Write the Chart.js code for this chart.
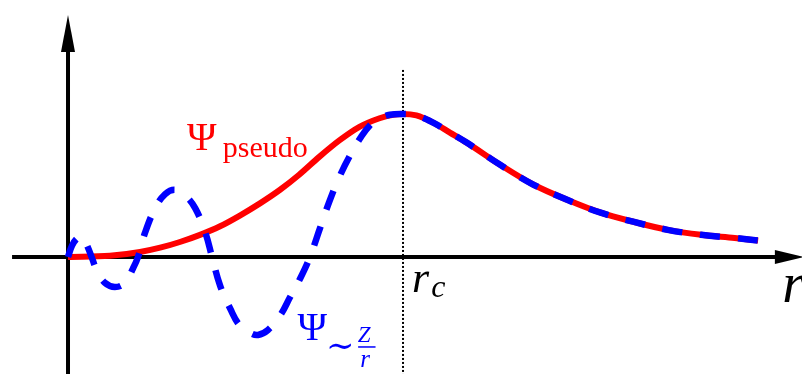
<!DOCTYPE html>
<html>
<head>
<meta charset="utf-8">
<script src="https://cdn.jsdelivr.net/npm/chart.js@4.4.1/dist/chart.umd.min.js"></script>
<style>
  html, body { margin: 0; padding: 0; background: #fff; }
  #wrap { width: 802px; height: 374px; position: relative; }
</style>
</head>
<body>
<div id="wrap"><canvas id="psiChart"></canvas></div>
<script>
'use strict';

// r in units of r_c, psi in units of the peak value (reached at r_c)
const R_CUT = 1;

// pseudo wavefunction inside the core
const R_PSEUDO_IN   = [0, 0.125, 0.215, 0.275, 0.334, 0.394, 0.454, 0.513, 0.573, 0.633, 0.69, 0.75, 0.81, 0.87, 0.93, 0.97, 1.0];
const PSI_PSEUDO_IN = [0, 0.008, 0.035, 0.065, 0.105, 0.155, 0.215, 0.29, 0.375, 0.47, 0.575, 0.70, 0.815, 0.91, 0.97, 0.995, 1.0];

// all-electron wavefunction inside the core (oscillating)
const R_AE_IN = [0, 0.012, 0.027, 0.042, 0.057, 0.072, 0.087, 0.11, 0.14, 0.17, 0.194, 0.209,
                 0.23, 0.26, 0.29, 0.32, 0.35, 0.38, 0.41, 0.43, 0.454, 0.484, 0.513, 0.543,
                 0.567, 0.597, 0.633, 0.663, 0.693, 0.722, 0.752, 0.782, 0.812, 0.842, 0.872,
                 0.901, 0.931, 0.961, 1.0];
const PSI_AE_IN = [0, 0.08, 0.13, 0.145, 0.08, -0.01, -0.10, -0.18, -0.21, -0.18, -0.08, 0,
                   0.17, 0.34, 0.44, 0.47, 0.43, 0.34, 0.17, 0, -0.20, -0.36, -0.48, -0.53,
                   -0.545, -0.51, -0.41, -0.28, -0.15, 0, 0.20, 0.40, 0.57, 0.71, 0.83,
                   0.92, 0.97, 0.995, 1.0];

// common tail outside r_c
const R_OUT   = [1.04, 1.09, 1.14, 1.19, 1.29, 1.39, 1.49, 1.59, 1.69, 1.79, 1.89, 1.99, 2.06];
const PSI_OUT = [0.99, 0.94, 0.87, 0.80, 0.645, 0.505, 0.40, 0.31, 0.245, 0.19, 0.155, 0.133, 0.115];

const RED  = '#ff0000';
const BLUE = '#0000ff';
const SERIF = '"Liberation Serif", "DejaVu Serif", serif';

// text placed in data coordinates (left edge, baseline)
const TEXT_LABELS = [
  { text: 'Ψ',      r: 0.355, psi: 0.748,  font: `40px ${SERIF}`,        color: RED },
  { text: 'pseudo', r: 0.462, psi: 0.699,  font: `30px ${SERIF}`,        color: RED },
  { text: 'Ψ',      r: 0.685, psi: -0.580, font: `40px ${SERIF}`,        color: BLUE },
  { text: '∼',      r: 0.770, psi: -0.700, font: `34px ${SERIF}`,        color: BLUE },
  { text: 'Z',      r: 0.865, psi: -0.594, font: `italic 23px ${SERIF}`, color: BLUE },
  { text: 'r',      r: 0.872, psi: -0.769, font: `italic 25px ${SERIF}`, color: BLUE },
  { text: 'r',      r: 1.027, psi: -0.245, font: `italic 44px ${SERIF}`, color: '#000' },
  { text: 'c',      r: 1.084, psi: -0.282, font: `italic 32px ${SERIF}`, color: '#000' },
  { text: 'r',      r: 2.132, psi: -0.315, font: `italic 56px ${SERIF}`, color: '#000' },
];

const toPts = (xs, ys) => xs.map((x, i) => ({ x, y: ys[i] }));

/* axes, arrows and r_c marker, drawn through the scales */
const axesPlugin = {
  id: 'axes',
  beforeDatasetsDraw(chart) {
    const { ctx, scales: { x, y } } = chart;
    const x0 = x.getPixelForValue(0), y0 = y.getPixelForValue(0);
    ctx.save();
    ctx.strokeStyle = '#000';
    ctx.fillStyle = '#000';
    ctx.lineWidth = 4;
    // r axis
    ctx.beginPath();
    ctx.moveTo(x.getPixelForValue(-0.167), y0);
    ctx.lineTo(x.getPixelForValue(2.12), y0);
    ctx.stroke();
    const xb = x.getPixelForValue(2.11), xt = x.getPixelForValue(2.196);
    ctx.beginPath();
    ctx.moveTo(xt, y0);
    ctx.lineTo(xb, y0 - 7);
    ctx.lineTo(xb, y0 + 7);
    ctx.closePath();
    ctx.fill();
    // psi axis
    ctx.beginPath();
    ctx.moveTo(x0, y.getPixelForValue(-0.82));
    ctx.lineTo(x0, y.getPixelForValue(1.44));
    ctx.stroke();
    const yb = y.getPixelForValue(1.434), yt = y.getPixelForValue(1.692);
    ctx.beginPath();
    ctx.moveTo(x0, yt);
    ctx.lineTo(x0 - 7, yb);
    ctx.lineTo(x0 + 7, yb);
    ctx.closePath();
    ctx.fill();
    // dotted r_c line
    const xc = x.getPixelForValue(R_CUT);
    ctx.lineWidth = 2;
    ctx.setLineDash([2, 2]);
    ctx.beginPath();
    ctx.moveTo(xc, y.getPixelForValue(1.308));
    ctx.lineTo(xc, y.getPixelForValue(-0.82));
    ctx.stroke();
    ctx.restore();
  },
  afterDatasetsDraw(chart) {
    const { ctx, scales: { x, y } } = chart;
    ctx.save();
    ctx.textAlign = 'left';
    ctx.textBaseline = 'alphabetic';
    TEXT_LABELS.forEach(l => {
      ctx.font = l.font;
      ctx.fillStyle = l.color;
      ctx.fillText(l.text, x.getPixelForValue(l.r), y.getPixelForValue(l.psi));
    });
    // fraction bar of Z/r
    ctx.strokeStyle = BLUE;
    ctx.lineWidth = 1.5;
    const yf = y.getPixelForValue(-0.629);
    ctx.beginPath();
    ctx.moveTo(x.getPixelForValue(0.866), yf);
    ctx.lineTo(x.getPixelForValue(0.918), yf);
    ctx.stroke();
    ctx.restore();
  },
};

new Chart(document.getElementById('psiChart'), {
  type: 'line',
  data: {
    datasets: [
      {
        label: 'Ψ ~Z/r',
        data: toPts(R_AE_IN.concat(R_OUT), PSI_AE_IN.concat(PSI_OUT)),
        borderColor: BLUE,
        borderWidth: 6.5,
        borderDash: [20, 18],
        pointRadius: 0,
        tension: 0.4,
        order: 0,
      },
      {
        label: 'Ψ pseudo',
        data: toPts(R_PSEUDO_IN.concat(R_OUT), PSI_PSEUDO_IN.concat(PSI_OUT)),
        borderColor: RED,
        borderWidth: 6,
        pointRadius: 0,
        cubicInterpolationMode: 'monotone',
        order: 1,
      },
    ],
  },
  options: {
    responsive: true,
    maintainAspectRatio: false,
    animation: false,
    layout: { padding: 0 },
    plugins: { legend: { display: false }, tooltip: { enabled: false } },
    scales: {
      x: { type: 'linear', display: false, min: -0.203, max: 2.191 },
      y: { type: 'linear', display: false, min: -0.818, max: 1.797 },
    },
  },
  plugins: [axesPlugin],
});
</script>
</body>
</html>
